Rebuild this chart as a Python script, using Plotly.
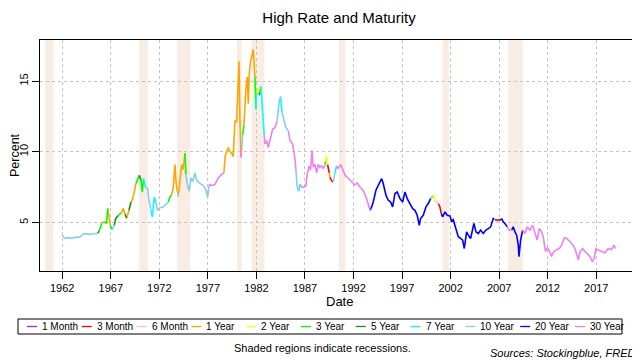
import plotly.graph_objects as go

# ---------------- data ----------------
maturities = ["1 Month", "3 Month", "6 Month", "1 Year", "2 Year", "3 Year",
              "5 Year", "7 Year", "10 Year", "20 Year", "30 Year"]
mat_colors = ["#A020F0", "#FF0000", "#FFC0CB", "#FFA500", "#FFFF00", "#00FF00",
              "#228B22", "#00FFFF", "#87CEEB", "#0000FF", "#EE82EE"]

# decimal year, highest yield (%), maturity holding the highest yield
year = [1962.00, 1962.28, 1962.62, 1962.97, 1963.31, 1963.82, 1964.27, 1964.68, 1965.20, 1965.65,
        1965.81, 1966.06, 1966.33, 1966.57, 1966.68, 1966.81, 1966.95, 1967.15, 1967.36, 1967.50,
        1967.77, 1967.94, 1968.11, 1968.28, 1968.46, 1968.63, 1968.87, 1969.08, 1969.21, 1969.42,
        1969.59, 1969.76, 1969.93, 1970.11, 1970.24, 1970.38, 1970.59, 1970.80, 1970.93, 1971.14,
        1971.27, 1971.48, 1971.62, 1971.83, 1972.06, 1972.40, 1972.58, 1972.92, 1973.09, 1973.27,
        1973.43, 1973.61, 1973.71, 1973.85, 1973.95, 1974.12, 1974.30, 1974.46, 1974.64, 1974.74,
        1974.88, 1975.08, 1975.26, 1975.43, 1975.67, 1975.84, 1976.11, 1976.36, 1976.60, 1976.80,
        1976.98, 1977.14, 1977.39, 1977.73, 1978.07, 1978.42, 1978.65, 1978.79, 1978.93, 1979.10,
        1979.27, 1979.45, 1979.61, 1979.79, 1979.96, 1980.13, 1980.20, 1980.30, 1980.41, 1980.50,
        1980.58, 1980.71, 1980.82, 1980.92, 1981.06, 1981.16, 1981.26, 1981.40, 1981.54, 1981.67,
        1981.85, 1981.94, 1982.02, 1982.19, 1982.28, 1982.36, 1982.47, 1982.57, 1982.70, 1982.80,
        1982.88, 1982.95, 1983.05, 1983.22, 1983.46, 1983.67, 1983.91, 1984.14, 1984.35, 1984.49,
        1984.63, 1984.83, 1985.04, 1985.28, 1985.45, 1985.73, 1985.97, 1986.07, 1986.20, 1986.35,
        1986.48, 1986.66, 1986.89, 1987.10, 1987.23, 1987.44, 1987.58, 1987.72, 1987.85, 1988.03,
        1988.20, 1988.37, 1988.54, 1988.72, 1988.88, 1989.06, 1989.13, 1989.20, 1989.33, 1989.44,
        1989.50, 1989.57, 1989.75, 1989.91, 1990.09, 1990.26, 1990.43, 1990.67, 1990.88, 1991.12,
        1991.35, 1991.63, 1991.91, 1992.15, 1992.38, 1992.66, 1993.00, 1993.35, 1993.69, 1993.87,
        1994.03, 1994.31, 1994.55, 1994.90, 1995.06, 1995.34, 1995.58, 1995.82, 1996.03, 1996.27,
        1996.50, 1996.78, 1997.06, 1997.30, 1997.53, 1997.81, 1998.09, 1998.33, 1998.56, 1998.77,
        1998.91, 1999.18, 1999.46, 1999.70, 1999.94, 2000.06, 2000.15, 2000.28, 2000.40, 2000.60,
        2000.73, 2000.90, 2001.04, 2001.18, 2001.42, 2001.65, 2001.93, 2002.10, 2002.27, 2002.55,
        2002.79, 2003.03, 2003.24, 2003.41, 2003.65, 2003.82, 2004.06, 2004.40, 2004.61, 2004.85,
        2005.09, 2005.36, 2005.64, 2005.88, 2006.12, 2006.39, 2006.50, 2006.57, 2006.80, 2007.08,
        2007.20, 2007.26, 2007.42, 2007.60, 2007.83, 2008.04, 2008.29, 2008.45, 2008.63, 2008.80,
        2008.97, 2009.04, 2009.21, 2009.42, 2009.66, 2009.89, 2010.17, 2010.45, 2010.69, 2010.92,
        2011.13, 2011.38, 2011.54, 2011.61, 2011.77, 2011.97, 2012.16, 2012.40, 2012.64, 2012.92,
        2013.19, 2013.44, 2013.67, 2013.88, 2014.12, 2014.47, 2014.81, 2015.15, 2015.32, 2015.60,
        2015.84, 2016.07, 2016.35, 2016.59, 2016.79, 2016.97, 2017.21, 2017.56, 2017.90, 2018.24,
        2018.59, 2018.82, 2019.00]

rate = [4.10, 3.87, 3.93, 3.87, 3.95, 3.98, 4.23, 4.16, 4.20, 4.23,
        4.40, 4.93, 5.05, 4.93, 5.99, 5.50, 4.80, 4.50, 4.80, 5.27,
        5.50, 5.60, 5.70, 6.00, 5.60, 5.30, 5.85, 6.45, 6.57, 7.15,
        7.75, 8.00, 8.33, 8.00, 7.15, 8.10, 7.50, 7.40, 6.57, 5.85,
        5.39, 6.80, 6.45, 5.85, 6.05, 6.10, 6.22, 6.45, 6.80, 6.97,
        7.45, 9.10, 7.90, 7.20, 6.85, 7.90, 9.10, 8.75, 9.90, 8.40,
        7.70, 7.20, 8.15, 7.90, 8.50, 8.00, 7.80, 7.70, 7.55, 7.30,
        6.80, 7.70, 7.60, 7.70, 8.15, 8.40, 8.50, 9.70, 10.00, 10.30,
        10.00, 9.90, 9.65, 12.20, 12.10, 15.96, 16.40, 12.30, 9.60, 10.40,
        11.20, 11.90, 13.40, 14.50, 15.30, 13.40, 15.50, 16.40, 16.80, 17.25,
        15.30, 13.00, 14.20, 14.50, 14.00, 14.20, 14.60, 13.50, 12.00, 11.20,
        10.55, 10.60, 10.80, 10.30, 11.00, 11.60, 11.70, 12.20, 13.60, 13.90,
        12.80, 12.20, 11.70, 11.50, 10.80, 10.55, 9.50, 8.70, 7.50, 7.20,
        7.70, 7.50, 7.50, 7.60, 8.40, 9.00, 8.70, 10.10, 8.90, 9.10,
        8.50, 9.10, 8.90, 9.00, 8.80, 9.10, 9.30, 9.70, 9.10, 8.80,
        8.50, 8.20, 7.95, 7.85, 8.50, 9.00, 8.80, 9.10, 8.70, 8.35,
        8.20, 8.00, 7.85, 7.65, 7.80, 7.51, 7.27, 6.69, 5.86, 6.10,
        6.45, 7.27, 7.63, 8.10, 7.75, 6.93, 6.57, 6.45, 6.10, 7.05,
        7.16, 6.69, 6.45, 7.16, 6.69, 6.34, 5.98, 5.86, 5.51, 4.80,
        5.28, 5.51, 6.10, 6.34, 6.69, 6.80, 6.85, 6.93, 6.50, 6.45,
        6.34, 6.10, 5.63, 5.40, 5.75, 5.51, 5.45, 5.10, 5.20, 4.45,
        3.99, 3.87, 3.75, 3.16, 4.34, 4.10, 3.87, 4.93, 4.34, 4.22,
        4.46, 4.22, 4.46, 4.57, 4.69, 5.28, 5.22, 5.20, 5.16, 5.20,
        5.18, 5.28, 5.04, 4.93, 4.69, 4.46, 4.46, 4.69, 4.34, 4.10,
        3.40, 2.58, 3.75, 4.46, 4.22, 4.69, 4.46, 4.81, 4.34, 3.75,
        4.57, 4.34, 3.99, 3.52, 2.95, 3.20, 3.00, 2.60, 2.95, 3.08,
        3.16, 3.40, 3.87, 3.93, 3.75, 3.52, 3.16, 2.35, 2.93, 3.16,
        2.93, 2.81, 2.58, 2.23, 2.46, 3.16, 3.05, 2.93, 2.86, 3.16,
        3.09, 3.40, 3.16]

mat = ["10 Year"] * 9 + [
    "5 Year", "3 Year", "1 Year", "3 Year", "3 Year", "1 Year", "1 Year", "3 Year", "10 Year", "5 Year",
    "5 Year", "3 Year", "3 Year", "1 Year", "1 Year", "5 Year", "1 Year", "5 Year", "1 Year", "1 Year",
    "1 Year", "3 Year", "3 Year", "5 Year", "3 Year", "3 Year", "7 Year", "10 Year", "10 Year", "10 Year",
    "7 Year", "7 Year", "7 Year", "10 Year", "10 Year", "10 Year", "10 Year", "10 Year", "3 Year", "3 Year",
    "1 Year", "1 Year", "1 Year", "1 Year", "10 Year", "1 Year", "1 Year", "1 Year", "1 Year", "3 Year",
    "10 Year", "10 Year", "10 Year", "10 Year", "10 Year", "10 Year", "10 Year", "10 Year", "10 Year", "10 Year",
    "10 Year", "10 Year", "30 Year", "30 Year", "30 Year", "30 Year", "30 Year", "1 Year", "1 Year", "1 Year",
    "1 Year", "1 Year", "1 Year", "1 Year", "1 Year", "1 Year", "1 Year", "1 Year", "1 Year", "30 Year",
    "10 Year", "3 Year", "1 Year", "1 Year", "1 Year", "1 Year", "1 Year", "1 Year", "1 Year", "1 Year",
    "1 Year", "3 Year", "7 Year", "2 Year", "2 Year", "5 Year", "3 Year", "7 Year", "7 Year", "7 Year",
    "30 Year", "7 Year", "30 Year", "30 Year", "30 Year", "30 Year", "30 Year", "30 Year", "10 Year", "10 Year",
    "7 Year", "10 Year", "10 Year", "10 Year", "30 Year", "30 Year", "30 Year", "30 Year", "10 Year", "10 Year",
    "7 Year", "30 Year", "30 Year", "30 Year", "30 Year", "30 Year", "30 Year", "30 Year", "30 Year", "30 Year",
    "30 Year", "30 Year", "30 Year", "30 Year", "30 Year", "30 Year", "3 Year", "2 Year", "2 Year", "3 Month",
    "3 Month", "1 Year", "3 Month", "3 Month", "10 Year", "7 Year", "30 Year", "30 Year", "30 Year", "30 Year",
    "30 Year", "30 Year", "30 Year", "30 Year", "30 Year", "30 Year", "30 Year", "30 Year", "30 Year", "20 Year",
    "20 Year", "20 Year", "20 Year", "20 Year", "20 Year", "20 Year", "20 Year", "20 Year", "20 Year", "20 Year",
    "20 Year", "20 Year", "20 Year", "20 Year", "20 Year", "20 Year", "20 Year", "20 Year", "20 Year", "20 Year",
    "20 Year", "20 Year", "20 Year", "20 Year", "20 Year", "7 Year", "3 Year", "2 Year", "2 Year", "6 Month",
    "6 Month", "3 Month", "3 Month", "20 Year", "20 Year", "20 Year", "20 Year", "20 Year", "20 Year", "20 Year",
    "20 Year", "20 Year", "20 Year", "20 Year", "20 Year", "20 Year", "20 Year", "20 Year", "20 Year", "20 Year",
    "20 Year", "20 Year", "20 Year", "20 Year", "20 Year", "20 Year", "20 Year", "6 Month", "3 Month", "3 Month",
    "3 Month", "20 Year", "20 Year", "20 Year", "20 Year", "30 Year", "30 Year", "20 Year", "20 Year", "20 Year",
    "20 Year", "20 Year", "20 Year", "20 Year", "30 Year", "30 Year", "30 Year", "30 Year", "30 Year", "30 Year",
    "30 Year", "30 Year", "30 Year", "30 Year", "30 Year", "30 Year", "30 Year", "30 Year", "30 Year", "30 Year",
    "30 Year", "30 Year", "30 Year", "30 Year", "30 Year", "30 Year", "30 Year", "30 Year", "30 Year", "30 Year",
    "30 Year", "30 Year", "30 Year", "30 Year", "30 Year", "30 Year", "30 Year", "30 Year", "30 Year", "30 Year",
    "30 Year", "30 Year", "30 Year"]

recession_start = [1960.25, 1969.92, 1973.83, 1980.00, 1981.50, 1990.50, 2001.17, 2007.92]
recession_end = [1961.08, 1970.83, 1975.17, 1980.50, 1982.83, 1991.17, 2001.83, 2009.42]

x_ticks = [1962, 1967, 1972, 1977, 1982, 1987, 1992, 1997, 2002, 2007, 2012, 2017]
y_ticks = [5, 10, 15]

# ---------------- layout constants ----------------
# the page body adds an 8px offset; positions below are given in window pixels
OFF = 8
W, H = 640, 360
PLOT_L, PLOT_R, PLOT_T, PLOT_B = 40, 638, 40, 271      # plot box in window pixels
ML, MT = PLOT_L - OFF, PLOT_T - OFF
MR, MB = W - (PLOT_R - OFF), H - (PLOT_B - OFF)
PW, PH = PLOT_R - PLOT_L, PLOT_B - PLOT_T
FONT = "Liberation Sans, Arial, sans-serif"


def px_x(p):
    return (p - PLOT_L) / PW


def px_y(p):
    return (PLOT_B - p) / PH


fig = go.Figure()

# coloured segments, one trace per maturity
n = len(year)
for m, c in zip(maturities, mat_colors):
    xs, ys = [], []
    for i in range(n - 1):
        if mat[i] != m:
            continue
        if xs and xs[-1] == year[i]:
            xs.append(year[i + 1]); ys.append(rate[i + 1])
        else:
            if xs:
                xs.append(None); ys.append(None)
            xs += [year[i], year[i + 1]]
            ys += [rate[i], rate[i + 1]]
    fig.add_trace(go.Scatter(x=xs, y=ys, mode="lines", name=m,
                             line=dict(color=c, width=1.6), showlegend=False,
                             hoverinfo="skip"))

shapes = []
for s, e in zip(recession_start, recession_end):
    shapes.append(dict(type="rect", xref="x", yref="paper", x0=s, x1=e, y0=0, y1=1,
                       fillcolor="#F9EDE3", line=dict(width=0), layer="below"))

# legend box (drawn like the R legend)
shapes.append(dict(type="rect", xref="paper", yref="paper",
                   x0=px_x(18), x1=px_x(622), y0=px_y(334), y1=px_y(319),
                   line=dict(color="black", width=1), fillcolor="rgba(0,0,0,0)"))
annotations = []
leg_y = 326.5
for i, (m, c) in enumerate(zip(maturities, mat_colors)):
    x0 = 27 + 54.8 * i
    shapes.append(dict(type="line", xref="paper", yref="paper",
                       x0=px_x(x0), x1=px_x(x0 + 10), y0=px_y(leg_y), y1=px_y(leg_y),
                       line=dict(color=c, width=1.3)))
    annotations.append(dict(xref="paper", yref="paper", x=px_x(x0 + 13), y=px_y(leg_y),
                            text=m, showarrow=False, xanchor="left", yanchor="middle",
                            font=dict(size=10, color="black", family=FONT)))

annotations += [
    dict(xref="paper", yref="paper", x=px_x(339), y=px_y(301), text="Date",
         showarrow=False, xanchor="center", yanchor="middle",
         font=dict(size=13, color="black", family=FONT)),
    dict(xref="paper", yref="paper", x=px_x(15), y=px_y(155), text="Percent",
         showarrow=False, xanchor="center", yanchor="middle", textangle=-90,
         font=dict(size=12.5, color="black", family=FONT)),
    dict(xref="paper", yref="paper", x=px_x(322), y=px_y(348),
         text="Shaded regions indicate recessions.",
         showarrow=False, xanchor="center", yanchor="middle",
         font=dict(size=11, color="black", family=FONT)),
    dict(xref="paper", yref="paper", x=px_x(638), y=px_y(353),
         text="<i>Sources: Stockingblue, FRED</i>",
         showarrow=False, xanchor="right", yanchor="middle",
         font=dict(size=11, color="black", family=FONT)),
]

axis_common = dict(showline=True, mirror=True, linecolor="black", linewidth=1,
                   ticks="outside", ticklen=7, tickcolor="black", tickwidth=1,
                   showgrid=True, gridcolor="#C4C4C4", griddash="dot", gridwidth=1,
                   zeroline=False, tickfont=dict(size=11, color="black", family=FONT))

fig.update_layout(
    width=W, height=H,
    margin=dict(l=ML, r=MR, t=MT, b=MB),
    paper_bgcolor="white", plot_bgcolor="white",
    title=dict(text="High Rate and Maturity", x=px_x(339), xref="paper", xanchor="center",
               y=1 - (18 - OFF) / H, yref="container", yanchor="middle",
               font=dict(size=15, color="black", family=FONT)),
    xaxis=dict(range=[1959.71, 2021.3], tickvals=x_ticks,
               ticktext=[str(t) for t in x_ticks], **axis_common),
    yaxis=dict(range=[1.57, 17.9], tickvals=y_ticks, tickangle=-90, **axis_common),
    shapes=shapes, annotations=annotations, showlegend=False,
)

fig.write_html("out.html")
